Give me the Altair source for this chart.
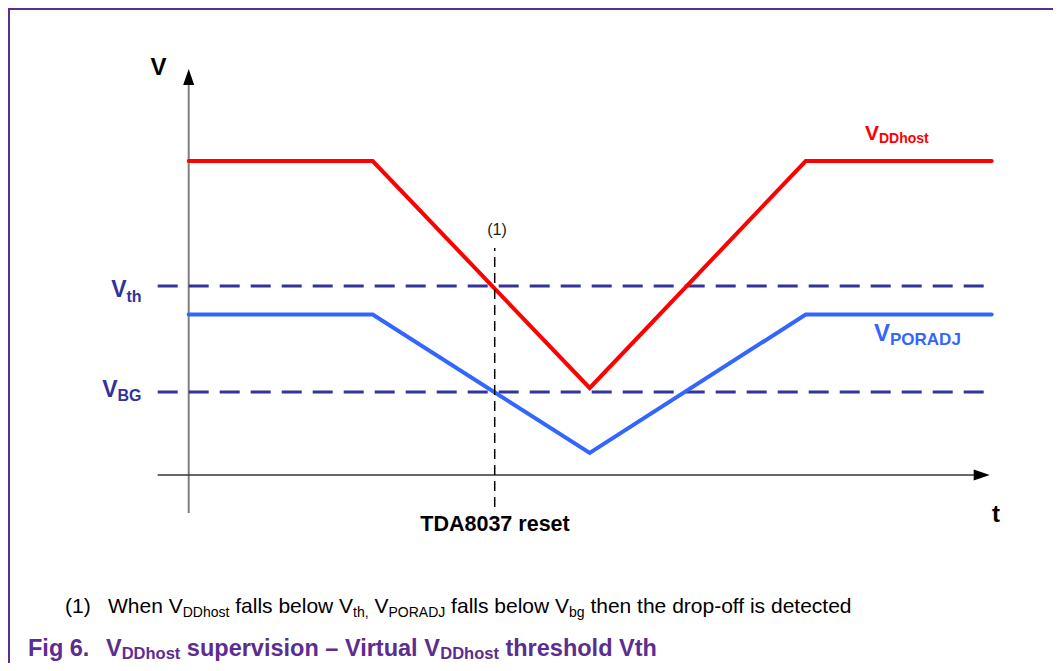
import altair as alt
import pandas as pd

# ---------------- data (schematic units: t = time, V = voltage) ----------------
t_knots = [0.0, 1.84, 4.01, 6.17, 8.03]
vdd_host = [6.28, 6.28, 1.74, 6.28, 6.28]
v_poradj = [3.21, 3.21, 0.44, 3.21, 3.21]
v_th = 3.78
v_bg = 1.66
t_reset = 3.06
x_axis_t = [-0.31, 7.86]
y_axis_v = [-0.76, 7.80]
dash_t = [-0.31, 8.02]
reset_v = [-0.64, 4.54]
x_arrow = (7.93, 0.0)
y_arrow = (0.0, 7.96)

W, H = 1045, 655
XS = alt.Scale(domain=[-1.807, 8.643], nice=False, zero=False)
YS = alt.Scale(domain=[-3.76, 9.34], nice=False, zero=False)

RED = "#ff0000"
BLUE = "#3366ff"
NAVY = "#333399"
PURPLE = "#5c2d91"
FONT = "Liberation Sans, Arial, Helvetica, sans-serif"

# Arial / Liberation Sans advance widths (per 1000 em)
REG = {' ': 278, '(': 333, ')': 333, '1': 556, ',': 278, '.': 278, '-': 333,
       'A': 667, 'D': 722, 'J': 500, 'O': 778, 'P': 667, 'R': 722, 'V': 667, 'W': 944,
       'a': 556, 'b': 556, 'c': 500, 'd': 556, 'e': 556, 'f': 278, 'g': 556, 'h': 556,
       'i': 222, 'l': 222, 'n': 556, 'o': 556, 'p': 556, 'r': 333, 's': 500, 't': 278,
       'w': 722}
BOLD = {' ': 278, '.': 278, '6': 556, '–': 556, 'D': 722, 'F': 611, 'V': 667,
        'a': 556, 'd': 611, 'e': 556, 'g': 611, 'h': 611, 'i': 278, 'l': 278, 'n': 611,
        'o': 611, 'p': 611, 'r': 389, 's': 556, 't': 333, 'u': 611, 'v': 556}


def tw(s, size, bold=False):
    table = BOLD if bold else REG
    return sum(table.get(c, 556) for c in s) / 1000.0 * size


def text_layer(txt, px, py, size, color, bold=False, align="left"):
    return alt.Chart(pd.DataFrame({"label": [txt]})).mark_text(
        font=FONT, fontSize=size, fontWeight="bold" if bold else "normal",
        color=color, align=align, baseline="alphabetic"
    ).encode(text="label:N", x=alt.value(px - 8), y=alt.value(py - 8))


def run_layers(start_x, segments, color, bold):
    """segments: list of (text, size, baseline_y)."""
    layers = []
    cur = start_x
    for txt, size, by in segments:
        lead = len(txt) - len(txt.lstrip(' '))
        cur += tw(' ' * lead, size, bold)
        body = txt.lstrip(' ')
        layers.append(text_layer(body, cur, by, size, color, bold))
        cur += tw(body, size, bold)
    return layers


# ---------------- geometry layers ----------------
lines_df = pd.DataFrame({
    "t": t_knots * 2,
    "V": vdd_host + v_poradj,
    "series": ["VDDhost"] * len(t_knots) + ["VPORADJ"] * len(t_knots),
})

frame = alt.Chart(pd.DataFrame({"a": [0]})).mark_rule(color=PURPLE, strokeWidth=2).encode(
    x=alt.value(0), x2=alt.value(W), y=alt.value(1))
frame_l = alt.Chart(pd.DataFrame({"a": [0]})).mark_rule(color=PURPLE, strokeWidth=2).encode(
    x=alt.value(1), y=alt.value(0), y2=alt.value(H))

yaxis = alt.Chart(pd.DataFrame({"t": [0.0], "v0": [y_axis_v[0]], "v1": [y_axis_v[1]]})).mark_rule(
    color="#808080", strokeWidth=2).encode(
    x=alt.X("t:Q", scale=XS, axis=None), y=alt.Y("v0:Q", scale=YS, axis=None), y2="v1:Q")
xaxis = alt.Chart(pd.DataFrame({"t0": [x_axis_t[0]], "t1": [x_axis_t[1]], "v": [0.0]})).mark_rule(
    color="#333333", strokeWidth=1.5).encode(
    x=alt.X("t0:Q", scale=XS, axis=None), x2="t1:Q", y=alt.Y("v:Q", scale=YS, axis=None))

arrow_up = alt.Chart(pd.DataFrame({"t": [y_arrow[0]], "V": [y_arrow[1]]})).mark_point(
    shape="M0,-1L0.69,1L-0.69,1Z", size=256, filled=True, color="#000000", opacity=1,
    strokeWidth=0).encode(x=alt.X("t:Q", scale=XS, axis=None), y=alt.Y("V:Q", scale=YS, axis=None))
arrow_right = alt.Chart(pd.DataFrame({"t": [x_arrow[0]], "V": [x_arrow[1]]})).mark_point(
    shape="M1,0L-1,-0.69L-1,0.69Z", size=256, filled=True, color="#000000", opacity=1,
    strokeWidth=0).encode(x=alt.X("t:Q", scale=XS, axis=None), y=alt.Y("V:Q", scale=YS, axis=None))

thresholds = alt.Chart(pd.DataFrame({
    "t0": [dash_t[0]] * 2, "t1": [dash_t[1]] * 2, "v": [v_th, v_bg]})).mark_rule(
    color=NAVY, strokeWidth=3, strokeDash=[20, 11]).encode(
    x=alt.X("t0:Q", scale=XS, axis=None), x2="t1:Q", y=alt.Y("v:Q", scale=YS, axis=None))

curves = alt.Chart(lines_df).mark_line(strokeWidth=4, strokeCap="round").encode(
    x=alt.X("t:Q", scale=XS, axis=None),
    y=alt.Y("V:Q", scale=YS, axis=None),
    color=alt.Color("series:N", scale=alt.Scale(domain=["VDDhost", "VPORADJ"], range=[RED, BLUE]),
                    legend=None),
    detail="series:N",
)

reset_line = alt.Chart(pd.DataFrame({"t": [t_reset], "v0": [reset_v[0]], "v1": [reset_v[1]]})).mark_rule(
    color="#000000", strokeWidth=1.5, strokeDash=[10, 6]).encode(
    x=alt.X("t:Q", scale=XS, axis=None), y=alt.Y("v0:Q", scale=YS, axis=None), y2="v1:Q")

# ---------------- text layers ----------------
texts = []
texts.append(text_layer("V", 158.5, 75, 24, "#000000", True, "center"))
texts.append(text_layer("t", 996, 522, 24, "#000000", True, "center"))
texts.append(text_layer("TDA8037 reset", 495, 531, 21.5, "#000000", True, "center"))
texts.append(text_layer("(1)", 497, 235, 16, "#222222", False, "center"))
# V_th
texts.append(text_layer("V", 126.5, 297, 23, NAVY, True, "right"))
texts.append(text_layer("th", 126.5, 302, 16, NAVY, True, "left"))
# V_BG
texts.append(text_layer("V", 117.5, 397, 23, NAVY, True, "right"))
texts.append(text_layer("BG", 117.5, 401, 16, NAVY, True, "left"))
# V_DDhost
texts.append(text_layer("V", 879, 140, 21, RED, True, "right"))
texts.append(text_layer("DDhost", 879, 143, 14, RED, True, "left"))
# V_PORADJ
texts.append(text_layer("V", 890, 341, 24, BLUE, True, "right"))
texts.append(text_layer("PORADJ", 890, 345, 17, BLUE, True, "left"))

# footnote
FN, FS = 21, 14
texts.append(text_layer("(1)", 65, 613, FN, "#000000"))
texts += run_layers(108, [
    ("When V", FN, 613), ("DDhost", FS, 617), (" falls below V", FN, 613), ("th,", FS, 617),
    (" V", FN, 613), ("PORADJ", FS, 617), (" falls below V", FN, 613), ("bg", FS, 617),
    (" then the drop-off is detected", FN, 613)], "#000000", False)

# caption
TN, TS = 23.5, 16.5
TB, SB = 656, 659
texts.append(text_layer("Fig 6.", 28, TB, TN, PURPLE, True))
texts += run_layers(106, [
    ("V", TN, TB), ("DDhost", TS, SB), (" supervision – Virtual V", TN, TB), ("DDhost", TS, SB),
    (" threshold Vth", TN, TB)], PURPLE, True)

chart = alt.layer(
    frame, frame_l, yaxis, xaxis, arrow_up, arrow_right, thresholds, curves, reset_line, *texts
).properties(
    width=W, height=H, autosize=alt.AutoSizeParams(type="none"), padding=0
).configure_view(stroke=None).configure(background="#ffffff")

chart.save("out.html", embed_options={"renderer": "svg", "actions": False})
